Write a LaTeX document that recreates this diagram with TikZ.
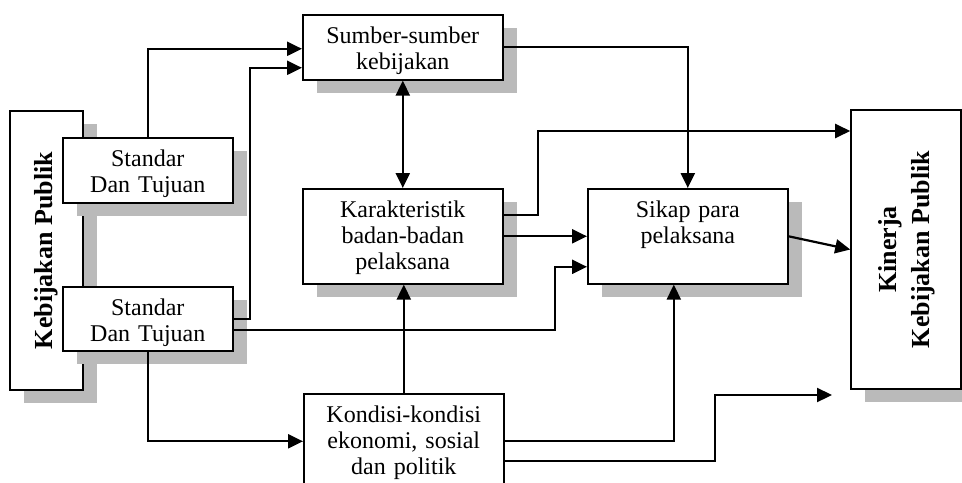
\documentclass[tikz,border=0pt]{standalone}
\usepackage{fontspec}
\setmainfont{Liberation Serif}
\usetikzlibrary{arrows.meta, shadows, calc}

\tikzset{
  kotak/.style = {draw, line width=0.8pt, fill=white, anchor=north west, align=center, inner sep=0pt, text height=14.5pt, font=\fontsize{12}{13}\selectfont},
  tegak/.style = {draw, line width=0.8pt, fill=white, inner sep=0pt, font=\fontsize{13}{16.5}\selectfont\bfseries},
  bayangan/.style = {drop shadow={opacity=1, fill=black!27, shadow xshift=7pt, shadow yshift=-6.5pt}},
  panah/.style = {line width=1.1pt, -{Triangle[length=7.5pt, width=7pt]}},
  panahdua/.style = {line width=1.1pt, {Triangle[length=7.5pt, width=7pt]}-{Triangle[length=7.5pt, width=7pt]}}
}

\begin{document}
\begin{tikzpicture}[x=0.5pt, y=-0.5pt]
\useasboundingbox (0,0) rectangle (962,482);
\clip (0,0) rectangle (962,482);

\node[tegak, bayangan, minimum width=36.5pt, minimum height=139.5pt] (kebijakan) at (46.5,250.5) {\rotatebox{90}{Kebijakan Publik}};
\node[tegak, bayangan, minimum width=55pt, minimum height=139.5pt] (kinerja) at (906,249.5) {\rotatebox{90}{\begin{tabular}{@{}c@{}}Kinerja\\Kebijakan Publik\end{tabular}}};

\node[kotak, bayangan, text width=85pt, text depth=18pt] (standarA) at (62,137) {Standar\\Dan Tujuan};
\node[kotak, bayangan, text width=85pt, text depth=17.5pt] (standarB) at (62,286) {Standar\\Dan Tujuan};
\node[kotak, bayangan, text width=100pt, text depth=18pt] (sumber) at (302,14) {Sumber-sumber\\kebijakan};
\node[kotak, bayangan, text width=100pt, text depth=33pt] (karakter) at (302,188) {Karakteristik\\badan-badan\\pelaksana};
\node[kotak, bayangan, text width=100pt, text depth=33pt] (sikap) at (587,188) {Sikap para\\pelaksana};
\node[kotak, text width=100pt, text depth=33pt] (kondisi) at (303,393) {Kondisi-kondisi\\ekonomi, sosial\\dan politik};

\draw[panah] (standarA.north) |- ([yshift=-0.75pt]sumber.west);
\draw[panah] (standarB.east) -- ++(16,0) |- ([yshift=-10.25pt]sumber.west);
\draw[panah] ([yshift=-5.5pt]standarB.east) -- ++(321,0) |- ([yshift=-15.25pt]sikap.west);
\draw[panah] (standarB.south) |- (kondisi.west);
\draw[panah] (sumber.east) -| (sikap.north);
\draw[panahdua] (sumber.south) -- (karakter.north);
\draw[panah] ([yshift=10.75pt]karakter.east) -- ++(34,0) |- ([yshift=59.25pt]kinerja.west);
\draw[panah] (karakter.east) -- (sikap.west);
\draw[panah] (kondisi.north) -- (kondisi.north |- karakter.south);
\draw[panah] (kondisi.east) -| ([xshift=-7pt]sikap.south);
\coordinate (ujung) at (832,395);
\draw[panah] ([yshift=-9.75pt]kondisi.east) -- ++(210,0) |- (ujung);
\draw[panah] (sikap.east) -- (kinerja.west);
\end{tikzpicture}
\end{document}
